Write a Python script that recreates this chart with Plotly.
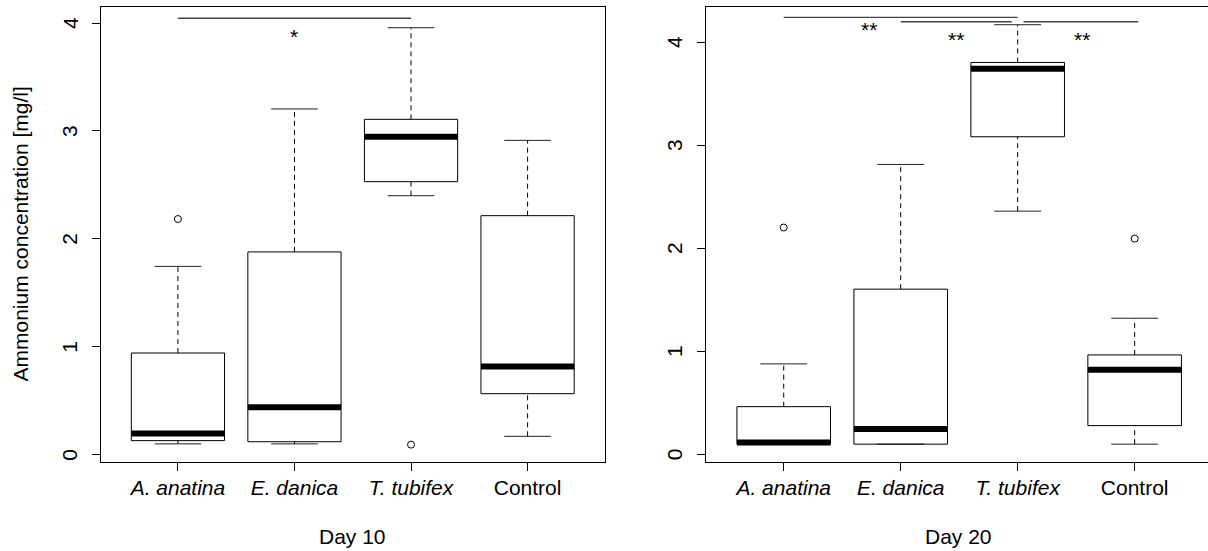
import plotly.graph_objects as go

# ---- data -------------------------------------------------------------
categories = ["A. anatina", "E. danica", "T. tubifex", "Control"]
tick_text = ["<i>A. anatina</i>", "<i>E. danica</i>", "<i>T. tubifex</i>", "Control"]
positions = [1, 2, 3, 4]
y_ticks = [0, 1, 2, 3, 4]

# Day 10 box statistics (mg/l)
d10_lower = [0.10, 0.10, 2.40, 0.17]
d10_q1 = [0.13, 0.12, 2.53, 0.565]
d10_median = [0.197, 0.44, 2.947, 0.818]
d10_q3 = [0.942, 1.879, 3.108, 2.215]
d10_upper = [1.745, 3.204, 3.957, 2.913]
d10_outlier_pos = [1, 3]
d10_outlier_val = [2.184, 0.093]

# Day 20 box statistics (mg/l)
d20_lower = [0.10, 0.10, 2.361, 0.10]
d20_q1 = [0.10, 0.10, 3.083, 0.28]
d20_median = [0.117, 0.248, 3.743, 0.823]
d20_q3 = [0.464, 1.604, 3.804, 0.966]
d20_upper = [0.879, 2.814, 4.170, 1.322]
d20_outlier_pos = [1, 4]
d20_outlier_val = [2.202, 2.095]

# significance brackets and labels
d10_sig_x0 = [1]
d10_sig_x1 = [3]
d10_sig_y = [4.045]
d10_star_x = [2]
d10_star_y = [3.875]
d10_star_text = ["*"]

d20_sig_x0 = [1, 2, 3.05]
d20_sig_x1 = [3, 2.95, 4.03]
d20_sig_y = [4.241, 4.199, 4.199]
d20_star_x = [1.73, 2.47, 3.55]
d20_star_y = [4.12, 4.025, 4.025]
d20_star_text = ["**", "**", "**"]

FONT = "Liberation Sans, Arial, sans-serif"
BOX_HALF = 0.4
CAP_HALF = 0.2

W, H = 1208, 551
ML, MR, MT, MB = 101, 0, 7, 89
PW = W - ML - MR
PH = H - MT - MB
LEFT_FRAME = 101.0
RIGHT_FRAME = 705.7

fig = go.Figure()


def add_panel(xa, ya, lower, q1, med, q3, upper, out_pos, out_val,
              sx0, sx1, sy, star_x, star_y, star_text, frame_px):
    bx, by, wx, wy, cx, cy, mx, my = [], [], [], [], [], [], [], []
    for p, lo, a, m, b, hi in zip(positions, lower, q1, med, q3, upper):
        bx += [p - BOX_HALF, p + BOX_HALF, p + BOX_HALF, p - BOX_HALF, p - BOX_HALF, None]
        by += [a, a, b, b, a, None]
        wx += [p, p, None, p, p, None]
        wy += [b, hi, None, lo, a, None]
        cx += [p - CAP_HALF, p + CAP_HALF, None, p - CAP_HALF, p + CAP_HALF, None]
        cy += [hi, hi, None, lo, lo, None]
        mx += [p - BOX_HALF, p + BOX_HALF, None]
        my += [m, m, None]
    common = dict(xaxis=xa, yaxis=ya, mode="lines", hoverinfo="skip", showlegend=False)
    fig.add_trace(go.Scatter(x=wx, y=wy, line=dict(color="black", width=1, dash="5px,4px"), **common))
    fig.add_trace(go.Scatter(x=cx, y=cy, line=dict(color="#222222", width=1), **common))
    fig.add_trace(go.Scatter(x=bx, y=by, line=dict(color="black", width=1), **common))
    fig.add_trace(go.Scatter(x=mx, y=my, line=dict(color="black", width=6), **common))
    fig.add_trace(go.Scatter(
        x=out_pos, y=out_val, xaxis=xa, yaxis=ya, mode="markers", hoverinfo="skip",
        showlegend=False,
        marker=dict(symbol="circle-open", size=7, color="black", line=dict(width=1, color="black")),
    ))
    lx, ly = [], []
    for a, b, y in zip(sx0, sx1, sy):
        lx += [a, b, None]
        ly += [y, y, None]
    fig.add_trace(go.Scatter(x=lx, y=ly, line=dict(color="#444444", width=1.4), **common))
    for x, y, t in zip(star_x, star_y, star_text):
        fig.add_annotation(x=x, y=y, xref=xa, yref=ya, text=t, showarrow=False,
                           xanchor="center", yanchor="middle",
                           font=dict(family=FONT, size=21, color="black"))
    # y tick labels, written parallel to the axis
    for v in y_ticks:
        fig.add_annotation(x=(frame_px - 31 - ML) / PW, y=v, xref="paper", yref=ya,
                           text=str(v), textangle=-90, showarrow=False,
                           xanchor="center", yanchor="middle",
                           font=dict(family=FONT, size=21, color="black"))


add_panel("x", "y", d10_lower, d10_q1, d10_median, d10_q3, d10_upper,
          d10_outlier_pos, d10_outlier_val,
          d10_sig_x0, d10_sig_x1, d10_sig_y, d10_star_x, d10_star_y, d10_star_text,
          LEFT_FRAME)
add_panel("x2", "y2", d20_lower, d20_q1, d20_median, d20_q3, d20_upper,
          d20_outlier_pos, d20_outlier_val,
          d20_sig_x0, d20_sig_x1, d20_sig_y, d20_star_x, d20_star_y, d20_star_text,
          RIGHT_FRAME)

xcommon = dict(tickvals=positions, ticktext=tick_text, ticks="outside", ticklen=8,
               tickcolor="black", showline=True, linecolor="black", linewidth=1,
               mirror=True, showgrid=False, zeroline=False, ticklabelstandoff=-1,
               tickfont=dict(family=FONT, size=21, color="black"))
ycommon = dict(tickvals=y_ticks, ticks="outside", ticklen=8, tickcolor="black",
               showticklabels=False, showline=True, linecolor="black", linewidth=1,
               showgrid=False, zeroline=False)

fig.update_layout(
    width=W, height=H,
    margin=dict(l=ML, r=MR, t=MT, b=MB),
    paper_bgcolor="white", plot_bgcolor="white",
    showlegend=False,
    xaxis=dict(domain=[0, 503.5 / PW], range=[0.34, 4.66], **xcommon),
    yaxis=dict(range=[-0.068, 4.149], mirror=True, **ycommon),
    xaxis2=dict(domain=[(RIGHT_FRAME - ML) / PW, 1], range=[0.333, 4.627], anchor="y2", **xcommon),
    yaxis2=dict(range=[-0.073, 4.342], anchor="x2", mirror=False, **ycommon),
)

# axis titles
fig.add_annotation(text="Ammonium concentration [mg/l]", textangle=-90,
                   xref="paper", yref="paper", x=(20 - ML) / PW, y=0.5,
                   xanchor="center", yanchor="middle", showarrow=False,
                   font=dict(family=FONT, size=21, color="black"))
fig.add_annotation(text="Day 10", xref="paper", yref="paper",
                   x=(352.8 - ML) / PW, y=(PH + MT - 536) / PH,
                   xanchor="center", yanchor="middle", showarrow=False,
                   font=dict(family=FONT, size=21, color="black"))
fig.add_annotation(text="Day 20", xref="paper", yref="paper",
                   x=(958.8 - ML) / PW, y=(PH + MT - 536) / PH,
                   xanchor="center", yanchor="middle", showarrow=False,
                   font=dict(family=FONT, size=21, color="black"))

fig.write_html("out.html")
